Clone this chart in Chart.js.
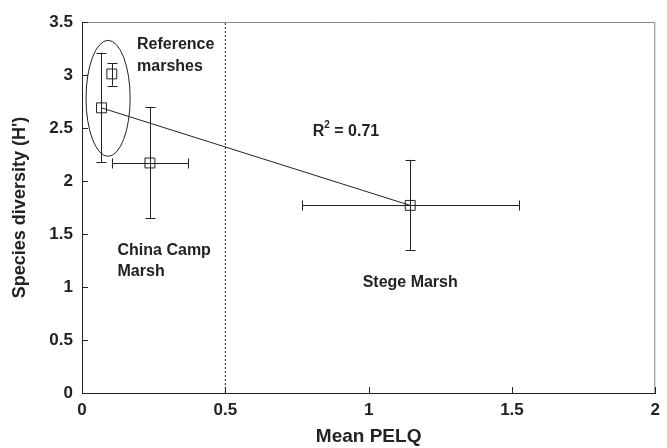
<!DOCTYPE html>
<html>
<head>
<meta charset="utf-8">
<script src="https://cdn.jsdelivr.net/npm/chart.js@4.4.1/dist/chart.umd.min.js"></script>
<style>
html,body{margin:0;padding:0;background:#fff;}
#wrap{width:667px;height:448px;}
</style>
</head>
<body>
<div id="wrap"><canvas id="c" width="667" height="448"></canvas></div>
<script>
// ---- data ----
const siteNames = ["Reference 1", "Reference 2", "China Camp Marsh", "Stege Marsh"];
const meanPELQ = [0.068, 0.104, 0.237, 1.145];
const diversity = [2.69, 3.01, 2.17, 1.77];
const yErrLow = [2.18, 2.90, 1.65, 1.35];
const yErrHigh = [3.21, 3.11, 2.70, 2.20];
const xErrLow = [null, null, 0.104, 0.766];
const xErrHigh = [null, null, 0.371, 1.525];
const regX = [0.068, 1.145];
const regY = [2.69, 1.77];
const thresholdX = [0.5, 0.5];
const thresholdY = [0, 3.5];
const xTicks = ["0", "0.5", "1", "1.5", "2"];
const yTicks = ["0", "0.5", "1", "1.5", "2", "2.5", "3", "3.5"];
// ellipse around reference marshes (data units): centre x, centre y, radius x, radius y
const ellipseDef = [0.091, 2.78, 0.077, 0.547];
// text labels: [text, x, y, align]
const labels = [
  ["Reference", 0.192, 3.29, "left"],
  ["marshes", 0.192, 3.08, "left"],
  ["China Camp", 0.124, 1.34, "left"],
  ["Marsh", 0.124, 1.15, "left"],
  ["Stege Marsh", 1.145, 1.04, "center"]
];
const r2Label = ["R", "2", " = 0.71", 0.805, 2.465];

const INK = '#222';
const FONT = '"Liberation Sans", Arial, Helvetica, sans-serif';

const overlay = {
  id: 'overlay',
  beforeDatasetsDraw(chart) {
    const ctx = chart.ctx, xs = chart.scales.x, ys = chart.scales.y;
    const ca = chart.chartArea;
    ctx.save();
    // top & right frame
    ctx.strokeStyle = '#888';
    ctx.lineWidth = 1;
    ctx.beginPath();
    ctx.moveTo(ca.left, ca.top + 0.5);
    ctx.lineTo(ca.right - 0.5, ca.top + 0.5);
    ctx.lineTo(ca.right - 0.5, ca.bottom);
    ctx.stroke();
    // inner ticks
    ctx.strokeStyle = INK;
    ctx.beginPath();
    xTicks.forEach(t => {
      const px = Math.round(xs.getPixelForValue(parseFloat(t))) + 0.5;
      ctx.moveTo(px, ca.bottom);
      ctx.lineTo(px, ca.bottom - 6);
    });
    yTicks.forEach(t => {
      const py = Math.round(ys.getPixelForValue(parseFloat(t))) + 0.5;
      ctx.moveTo(ca.left, py);
      ctx.lineTo(ca.left + 6, py);
    });
    ctx.stroke();
    // error bars
    const cap = 5;
    ctx.strokeStyle = INK;
    ctx.lineWidth = 1;
    ctx.beginPath();
    for (let i = 0; i < meanPELQ.length; i++) {
      const px = Math.round(xs.getPixelForValue(meanPELQ[i])) + 0.5;
      const py = Math.round(ys.getPixelForValue(diversity[i])) + 0.5;
      const yl = ys.getPixelForValue(yErrLow[i]);
      const yh = ys.getPixelForValue(yErrHigh[i]);
      ctx.moveTo(px, yl); ctx.lineTo(px, yh);
      ctx.moveTo(px - cap, Math.round(yl) + 0.5); ctx.lineTo(px + cap, Math.round(yl) + 0.5);
      ctx.moveTo(px - cap, Math.round(yh) + 0.5); ctx.lineTo(px + cap, Math.round(yh) + 0.5);
      if (xErrLow[i] !== null) {
        const xl = Math.round(xs.getPixelForValue(xErrLow[i])) + 0.5;
        const xh = Math.round(xs.getPixelForValue(xErrHigh[i])) + 0.5;
        ctx.moveTo(xl, py); ctx.lineTo(xh, py);
        ctx.moveTo(xl, py - cap); ctx.lineTo(xl, py + cap);
        ctx.moveTo(xh, py - cap); ctx.lineTo(xh, py + cap);
      }
    }
    ctx.stroke();
    // ellipse
    const ecx = xs.getPixelForValue(ellipseDef[0]);
    const ecy = ys.getPixelForValue(ellipseDef[1]);
    const erx = Math.abs(xs.getPixelForValue(ellipseDef[0] + ellipseDef[2]) - ecx);
    const ery = Math.abs(ys.getPixelForValue(ellipseDef[1] + ellipseDef[3]) - ecy);
    ctx.beginPath();
    ctx.ellipse(ecx, ecy, erx, ery, 0, 0, Math.PI * 2);
    ctx.stroke();
    // labels
    ctx.fillStyle = INK;
    ctx.textBaseline = 'middle';
    ctx.font = 'bold 16px ' + FONT;
    labels.forEach(l => {
      ctx.textAlign = l[3];
      ctx.fillText(l[0], xs.getPixelForValue(l[1]), ys.getPixelForValue(l[2]));
    });
    // R^2 label
    ctx.textAlign = 'left';
    let rx = xs.getPixelForValue(r2Label[3]);
    const ry = ys.getPixelForValue(r2Label[4]);
    ctx.fillText(r2Label[0], rx, ry);
    rx += ctx.measureText(r2Label[0]).width;
    ctx.font = 'bold 10px ' + FONT;
    ctx.fillText(r2Label[1], rx, ry - 6);
    rx += ctx.measureText(r2Label[1]).width;
    ctx.font = 'bold 16px ' + FONT;
    ctx.fillText(r2Label[2], rx, ry);
    ctx.restore();
  }
};

new Chart(document.getElementById('c'), {
  type: 'scatter',
  data: {
    datasets: [
      {
        label: 'Sites',
        data: meanPELQ.map((x, i) => ({x: x, y: diversity[i]})),
        pointStyle: 'rect',
        pointRadius: 7,
        pointHoverRadius: 7,
        borderColor: INK,
        backgroundColor: 'rgba(0,0,0,0)',
        borderWidth: 1,
        showLine: false
      },
      {
        label: 'Regression',
        data: regX.map((x, i) => ({x: x, y: regY[i]})),
        showLine: true,
        pointRadius: 0,
        borderColor: INK,
        borderWidth: 1
      },
      {
        label: 'Threshold',
        data: thresholdX.map((x, i) => ({x: x, y: thresholdY[i]})),
        showLine: true,
        pointRadius: 0,
        borderColor: INK,
        borderWidth: 1,
        borderDash: [2, 2]
      }
    ]
  },
  options: {
    responsive: false,
    animation: false,
    devicePixelRatio: 1,
    layout: {padding: {top: 22, right: 3, left: 0, bottom: 0}},
    plugins: {legend: {display: false}, tooltip: {enabled: false}},
    scales: {
      x: {
        type: 'linear', min: 0, max: 2,
        afterFit(s) { s.height = 55; },
        afterBuildTicks(s) { s.ticks = xTicks.map(t => ({value: parseFloat(t)})); },
        grid: {display: false, drawTicks: false},
        border: {display: true, color: INK, width: 1},
        ticks: {
          color: INK, padding: 7,
          font: {family: FONT, size: 17, weight: 'bold'},
          callback: (v, i) => xTicks[i]
        },
        title: {
          display: true, text: 'Mean PELQ', color: INK,
          font: {family: FONT, size: 19, weight: 'bold', lineHeight: 1},
          padding: {top: 0, bottom: 2}
        }
      },
      y: {
        type: 'linear', min: 0, max: 3.5,
        afterFit(s) { s.width = 82; },
        afterBuildTicks(s) { s.ticks = yTicks.map(t => ({value: parseFloat(t)})); },
        grid: {display: false, drawTicks: false},
        border: {display: true, color: INK, width: 1},
        ticks: {
          color: INK, padding: 9,
          font: {family: FONT, size: 17, weight: 'bold'},
          callback: (v, i) => yTicks[i]
        },
        title: {
          display: true, text: "Species diversity (H')", color: INK,
          font: {family: FONT, size: 18, weight: 'bold', lineHeight: 1},
          padding: {top: 11, bottom: 0}
        }
      }
    }
  },
  plugins: [overlay]
});
</script>
</body>
</html>
